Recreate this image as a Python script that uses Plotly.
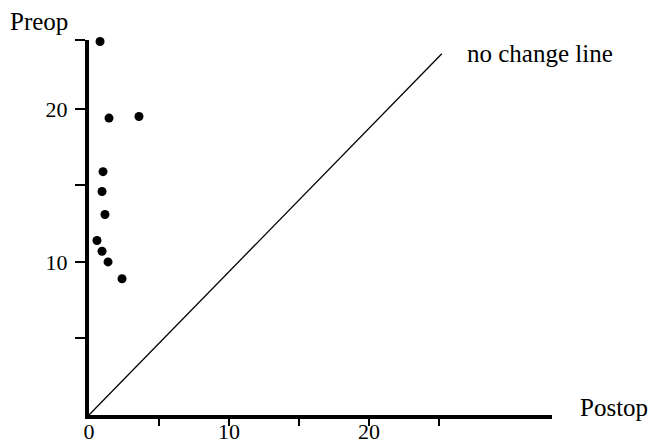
import plotly.graph_objects as go

# Data
postop = [0.79, 1.43, 3.57, 1.00, 0.93, 1.14, 0.57, 0.93, 1.36, 2.36]
preop = [24.4, 19.4, 19.5, 15.9, 14.6, 13.1, 11.4, 10.7, 10.0, 8.9]

no_change_x = [0, 25.2]
no_change_y = [0, 23.6]

x_label_vals = [0, 10, 20]
x_label_text = ["0", "10", "20"]
x_tick_vals = [5, 10, 15, 20, 25]

y_tick_vals = [5, 10, 15, 20, 24.5]
y_tick_text = ["", "10", "", "20", ""]

FONT = "Liberation Serif"

fig = go.Figure()
fig.add_trace(go.Scatter(x=no_change_x, y=no_change_y, mode="lines",
                         line=dict(color="black", width=1.3),
                         hoverinfo="skip", showlegend=False))
fig.add_trace(go.Scatter(x=postop, y=preop, mode="markers",
                         marker=dict(color="black", size=9),
                         cliponaxis=False, showlegend=False))

fig.update_layout(
    width=649, height=443,
    margin=dict(l=89, r=97, t=40, b=28),
    paper_bgcolor="white", plot_bgcolor="white",
    font=dict(family=FONT, color="black", size=22),
    xaxis=dict(range=[0, 33.07], showgrid=False, zeroline=False, automargin=False,
               showline=True, linecolor="black", linewidth=4,
               tickmode="array", tickvals=x_label_vals, ticktext=x_label_text,
               ticks="", ticklabelstandoff=-6,
               tickfont=dict(family=FONT, size=22, color="black"),
               minor=dict(tickmode="array", tickvals=x_tick_vals, ticks="outside",
                          ticklen=7, tickwidth=2, tickcolor="black", showgrid=False)),
    yaxis=dict(range=[0, 24.5], showgrid=False, zeroline=False, automargin=False,
               showline=True, linecolor="black", linewidth=4,
               tickmode="array", tickvals=y_tick_vals, ticktext=y_tick_text,
               ticks="outside", ticklen=10, tickwidth=2, tickcolor="black",
               ticklabelstandoff=3,
               tickfont=dict(family=FONT, size=22, color="black")),
    annotations=[
        dict(text="Preop", xref="paper", yref="paper", x=-0.175, y=1.048,
             xanchor="left", yanchor="middle", showarrow=False,
             font=dict(family=FONT, size=25, color="black")),
        dict(text="Postop", xref="paper", yref="paper", x=1.056, y=0.019,
             xanchor="left", yanchor="middle", showarrow=False,
             font=dict(family=FONT, size=25, color="black")),
        dict(text="no change line", xref="paper", yref="paper", x=0.812, y=0.963,
             xanchor="left", yanchor="middle", showarrow=False,
             font=dict(family=FONT, size=25, color="black")),
    ],
)

fig.write_html(
    "out.html",
    config={"displayModeBar": False},
    post_script="document.body.style.margin='0';document.body.style.overflow='hidden';",
)
